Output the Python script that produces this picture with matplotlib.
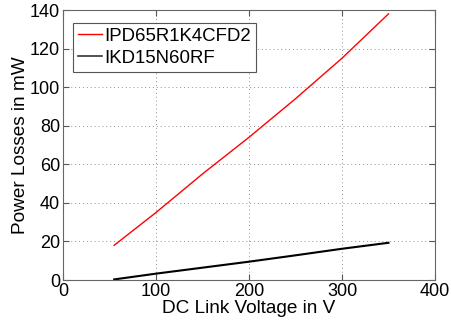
import matplotlib
matplotlib.use("Agg")
import matplotlib.pyplot as plt

plt.rcParams['font.family'] = ['Liberation Sans', 'DejaVu Sans']

# DC link voltage in V
v_red = [55, 100, 150, 200, 250, 300, 350]
p_red = [18, 35, 55, 74, 94, 115, 138]

v_black = [55, 100, 150, 200, 250, 300, 350]
p_black = [0.3, 3.3, 6.4, 9.5, 12.8, 16.2, 19.3]

labels = ["IPD65R1K4CFD2", "IKD15N60RF"]

fig = plt.figure(figsize=(4.51, 3.21), dpi=100)
ax = fig.add_axes([0.1397, 0.1277, 0.9645 - 0.1397, 0.9688 - 0.1277])

ax.plot(v_red, p_red, color="red", lw=1.0, label=labels[0])
ax.plot(v_black, p_black, color="black", lw=1.5, label=labels[1])

ax.set_xlim(0, 400)
ax.set_ylim(0, 140)
ax.set_xticks([0, 100, 200, 300, 400])
ax.set_yticks([0, 20, 40, 60, 80, 100, 120, 140])
ax.grid(True, linestyle=(0, (1, 3)), color="#909090", lw=0.7)
ax.tick_params(direction="in", top=True, right=True, length=4,
               labelsize=13, color="#555555", pad=2)
for s in ax.spines.values():
    s.set_color("#666666")
    s.set_linewidth(0.8)

ax.set_xlabel("DC Link Voltage in V", fontsize=13.7, labelpad=0)
ax.set_ylabel("Power Losses in mW", fontsize=13.7, labelpad=1)

leg = ax.legend(loc="upper left", bbox_to_anchor=(0.0277, 0.953),
                fontsize=13.4, handlelength=1.27, handletextpad=0.12,
                borderpad=0.27, labelspacing=0.28, borderaxespad=0,
                fancybox=False, framealpha=1)
leg.get_frame().set_edgecolor("#555555")
leg.get_frame().set_linewidth(0.8)
leg.get_lines()[1].set_color("#333333")
leg.get_lines()[1].set_linewidth(1.2)

fig.savefig("out.png", dpi=100)
